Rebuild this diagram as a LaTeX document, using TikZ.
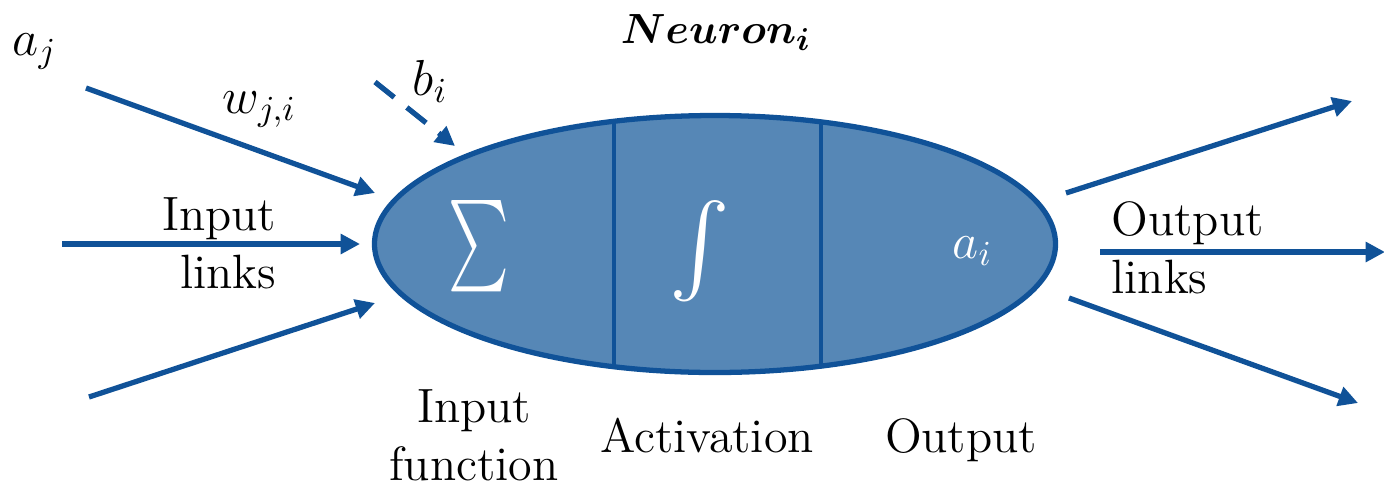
\documentclass[tikz,border=0pt]{standalone}
\usepackage{amssymb}
\usepackage{amsmath}
\usepackage{tikz}
\usetikzlibrary{positioning}
\usetikzlibrary{shapes.geometric}
\usetikzlibrary{arrows.meta}

\definecolor{linkblue}{RGB}{16,82,152}
\definecolor{cellblue}{RGB}{86,135,182}

\tikzset{
  link/.style={linkblue, line width=1.5pt, -{Triangle[length=5.5pt,width=5.5pt]}},
  lbl/.style={font=\fontsize{13.7}{16.3}\selectfont, inner sep=0pt},
  var/.style={font=\fontsize{14.5}{16}\selectfont, inner sep=0pt},
  sym/.style={text=white, inner sep=0pt, font=\fontsize{26}{30}\selectfont},
}

\begin{document}
\begin{tikzpicture}[x=0.1mm, y=-0.1mm]
\useasboundingbox (0,0) rectangle (1384,484);
\node[ellipse, draw=linkblue, fill=cellblue, line width=1.5pt, minimum width=6.81cm, minimum height=2.57cm, inner sep=0pt] (neuron) at (715,244) {};
\draw[linkblue, line width=1.4pt] (614,121) coordinate (d1t) -- (614,367) coordinate (d1b);
\draw[linkblue, line width=1.4pt] (821,121) coordinate (d2t) -- (821,367) coordinate (d2b);
\node[sym] (sum) at (479,246) {\scalebox{0.63}[1]{$\sum$}};
\node[sym] (act) at (700,251) {$\int$};
\node[var, text=white, anchor=base west] (ai) at (952,258) {$a_i$};

\node[lbl, anchor=base] (title) at (716,43) {\fontsize{13}{16}\selectfont$\boldsymbol{Neuron}_{\boldsymbol{i}}$};
\node[var, anchor=base west] (aj) at (12,55) {$a_j$};
\node[var, anchor=base west] (wji) at (222,113) {$w_{j,i}$};
\node[var, anchor=base west] (bi) at (412,95) {$b_i$};

\coordinate (in1) at (86,88);   \coordinate (in1e) at (375,193);
\coordinate (in2) at (62,244);  \coordinate (in2e) at (360,244);
\coordinate (in3) at (89,397);  \coordinate (in3e) at (375,303);
\coordinate (bias) at (375,82); \coordinate (biase) at (455,146);
\draw[link] (in1) -- (in1e);
\draw[link] (in2) -- (in2e);
\draw[link] (in3) -- (in3e);
\draw[link, dash pattern=on 7pt off 4.6pt] (bias) -- (biase);

\coordinate (out1) at (1066,193); \coordinate (out1e) at (1352,101);
\coordinate (out2) at (1100,252); \coordinate (out2e) at (1385,252);
\coordinate (out3) at (1069,298); \coordinate (out3e) at (1358,403);
\draw[link] (out1) -- (out1e);
\draw[link] (out2) -- (out2e);
\draw[link] (out3) -- (out3e);

\node[lbl, anchor=base east, align=right] (inlinks) at (277,288) {Input\\links};
\node[lbl, anchor=base west, align=left] (outlinks) at (1111,293) {Output\\links};
\node[lbl, anchor=base, align=center] (infun) at (474,480) {Input\\function};
\node[lbl, anchor=base] (activation) at (707,452) {Activation};
\node[lbl, anchor=base] (output) at (961,452) {Output};
\end{tikzpicture}
\end{document}
